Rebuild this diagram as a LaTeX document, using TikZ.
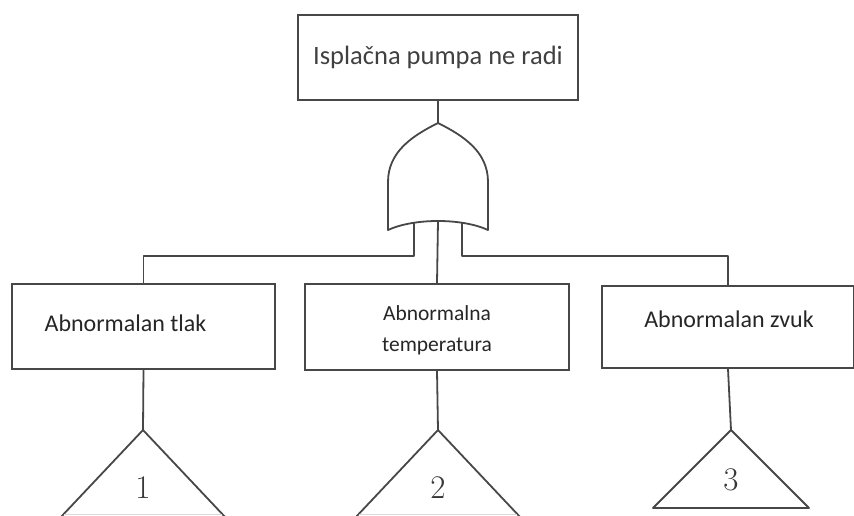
\documentclass[tikz,border=0pt]{standalone}
\usepackage{fontspec}
\setmainfont{Carlito}
\newfontfamily\numfont{Latin Modern Roman}
\begin{document}
\begin{tikzpicture}[x=1pt,y=-1pt,
  ln/.style={draw=black!72,line width=1.8pt},
  faint/.style={draw=black!15,line width=1pt},
  box/.style={ln,rectangle,inner sep=0pt},
  lbl/.style={text=black!85,inner sep=0pt,font=\fontsize{24}{28}\selectfont},
  num/.style={text=black!78,inner sep=0pt,font=\numfont\fontsize{33}{36}\selectfont}]
\useasboundingbox (0,0) rectangle (854,516);
% top event
\node[box,minimum width=280pt,minimum height=85pt,text=black!75,font=\fontsize{26.5}{30}\selectfont] (top) at (438,57.5) {Isplačna pumpa ne radi};
% OR gate
\coordinate (gtop) at (438,123);
\draw[ln,line join=round] (388,230) -- (388,182) .. controls (388,152) and (412,136) .. (gtop)
  .. controls (464,136) and (488,152) .. (488,182) -- (488,230)
  .. controls (462,218) and (414,218) .. cycle;
\coordinate (in1) at (414,223);
\coordinate (in2) at (438,221);
\coordinate (in3) at (462,223);
\draw[ln] (top.south) -- (gtop);
% intermediate events
\node[box,minimum width=263pt,minimum height=85pt] (b1) at (143.5,326.5) {};
\node[lbl] (t1) at (125.5,323) {Abnormalan tlak};
\node[box,minimum width=264pt,minimum height=86pt] (b2) at (437,327) {};
\node[lbl,align=center,font=\fontsize{21.5}{31}\selectfont] (t2) at (437,330.5) {Abnormalna\\temperatura};
\node[box,minimum width=252pt,minimum height=82pt] (b3) at (728,327) {};
\node[lbl] (t3) at (729,319) {Abnormalan zvuk};
% connections from gate
\coordinate (h1) at (414,256);
\coordinate (h3) at (462,256);
\draw[ln,line join=round] (in1) -- (h1) -| (b1.north);
\draw[ln] (in2) -- (b2.north);
\draw[ln,line join=round] (in3) -- (h3) -| (b3.north);
% transfer triangles
\coordinate (a1) at (143,430);
\coordinate (a2) at (438,430);
\coordinate (a3) at (731,430);
\coordinate (l1) at (60,518); \coordinate (r1) at (226,518);
\coordinate (l2) at (355,518); \coordinate (r2) at (521,518);
\draw[ln,line join=round] (l1) -- (a1) -- (r1);
\draw[ln,line join=round] (l2) -- (a2) -- (r2);
\draw[faint] (64,514.5) -- (222,514.5);
\draw[faint] (359,514.5) -- (517,514.5);
\draw[ln,line join=round] (a3) -- (653,508) -- (809,508) -- cycle;
\draw[ln] (b1.south) -- (a1);
\draw[ln] (b2.south) -- (a2);
\draw[ln] (b3.south) -- (a3);
\node[num] (n1) at (143,488) {1};
\node[num] (n2) at (438,488) {2};
\node[num] (n3) at (731,480) {3};
\end{tikzpicture}
\end{document}
